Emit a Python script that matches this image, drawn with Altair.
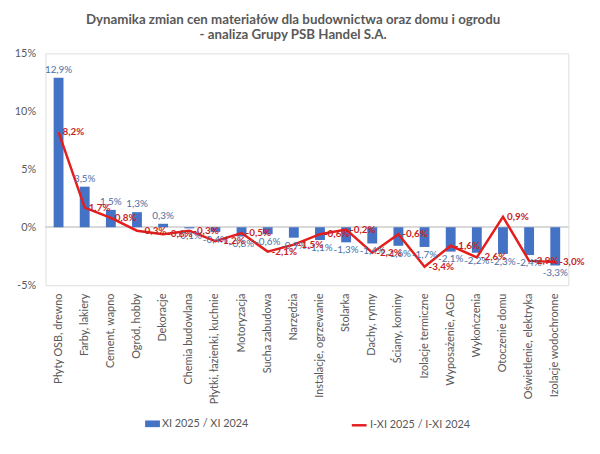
import altair as alt
import pandas as pd

categories = [
    "Płyty OSB, drewno", "Farby, lakiery", "Cement, wapno", "Ogród, hobby",
    "Dekoracje", "Chemia budowlana", "Płytki, łazienki, kuchnie", "Motoryzacja",
    "Sucha zabudowa", "Narzędzia", "Instalacje, ogrzewanie", "Stolarka",
    "Dachy, rynny", "Ściany, kominy", "Izolacje termiczne", "Wyposażenie, AGD",
    "Wykończenia", "Otoczenie domu", "Oświetlenie, elektryka", "Izolacje wodochronne",
]
bar_vals = [12.9, 3.5, 1.5, 1.3, 0.3, -0.1, -0.4, -0.8, -0.6, -0.9,
            -1.1, -1.3, -1.4, -1.6, -1.7, -2.1, -2.2, -2.3, -2.4, -3.3]
line_vals = [8.2, 1.7, 0.8, -0.3, -0.6, -0.3, -1.2, -0.5, -2.1, -1.5,
             -0.6, -0.2, -2.2, -0.6, -3.4, -1.6, -2.6, 0.9, -2.9, -3.0]
y_ticks = [-5, 0, 5, 10, 15]
bar_name = "XI 2025 / XI 2024"
line_name = "I-XI 2025 / I-XI 2024"
title_lines = ["Dynamika zmian cen materiałów dla budownictwa oraz domu i ogrodu",
               "- analiza Grupy PSB Handel S.A."]


def fmt(v):
    return f"{v:.1f}".replace(".", ",") + "%"


df = pd.DataFrame({
    "cat": categories,
    "bar": bar_vals,
    "line": line_vals,
    "bar_lbl": [fmt(v) for v in bar_vals],
    "line_lbl": [fmt(v) for v in line_vals],
    "s1": bar_name,
    "s2": line_name,
})

FONT = "Lato"
GREY = "#595959"
BLUE = "#4472C4"
RED = "#E41E1E"

x = alt.X("cat:N", sort=categories, title=None,
          scale=alt.Scale(paddingInner=0, paddingOuter=0),
          axis=alt.Axis(labelAngle=-90, labelColor=GREY, labelFontSize=11,
                        labelFont=FONT, labelPadding=8, ticks=False,
                        domain=False, labelLimit=200))
yscale = alt.Scale(domain=[-5, 15], nice=False)
y_bar = alt.Y("bar:Q", scale=yscale, title=None,
              axis=alt.Axis(values=y_ticks, labelExpr="datum.value + '%'",
                            labelColor=GREY, labelFontSize=11, labelFont=FONT,
                            ticks=False, domain=False, grid=False,
                            labelPadding=10))

base = alt.Chart(df)

zero = base.mark_rule(color="#D9D9D9", strokeWidth=1).encode(y=alt.datum(0))

bars = base.mark_bar(size=10).encode(
    x=x, y=y_bar,
    color=alt.Color("s1:N", scale=alt.Scale(domain=[bar_name], range=[BLUE]),
                    legend=alt.Legend(orient="none", legendX=101, legendY=368,
                                      title=None, padding=0,
                                      symbolType="M-1,-0.45L1,-0.45L1,0.45L-1,0.45Z",
                                      symbolSize=225, symbolStrokeWidth=0,
                                      labelFont=FONT, labelFontSize=11,
                                      labelColor=GREY, labelOffset=2)),
)

line = base.mark_line(strokeWidth=2.5).encode(
    x=x, y=alt.Y("line:Q", scale=yscale),
    stroke=alt.Stroke("s2:N", scale=alt.Scale(domain=[line_name], range=[RED]),
                      legend=alt.Legend(orient="none", legendX=309, legendY=368,
                                        title=None, padding=0,
                                        symbolType="stroke", symbolSize=225,
                                        symbolStrokeWidth=2.5,
                                        labelFont=FONT, labelFontSize=11,
                                        labelColor=GREY, labelOffset=2)),
)

pos_lbl = base.transform_filter("datum.bar >= 0").mark_text(
    baseline="bottom", dy=-3, fontSize=10, font=FONT, color="#4A6FA5"
).encode(x=x, y=alt.Y("bar:Q", scale=yscale), text="bar_lbl:N")

neg_lbl = base.transform_filter("datum.bar < 0").mark_text(
    baseline="top", dy=3, fontSize=10, font=FONT, color="#4A6FA5"
).encode(x=x, y=alt.Y("bar:Q", scale=yscale), text="bar_lbl:N")

line_lbl = base.mark_text(
    align="left", baseline="middle", dx=4, fontSize=10, font=FONT,
    fontWeight="bold", color="#C81E1E"
).encode(x=x, y=alt.Y("line:Q", scale=yscale), text="line_lbl:N")

chart = alt.layer(zero, bars, line, pos_lbl, neg_lbl, line_lbl).resolve_scale(
    color="independent", stroke="independent"
).properties(
    width=530, height=235,
    title=alt.Title(title_lines, font=FONT, fontSize=13.5, fontWeight="bold",
                    color=GREY, anchor="middle", dx=-14, offset=6,
                    lineHeight=15),
    autosize=alt.AutoSizeParams(type="none"),
    padding={"left": 38, "top": 43, "right": 24, "bottom": 160},
).configure_view(stroke=None).configure(background="white")

chart.save("out.html", embed_options={"renderer": "svg", "actions": False})
